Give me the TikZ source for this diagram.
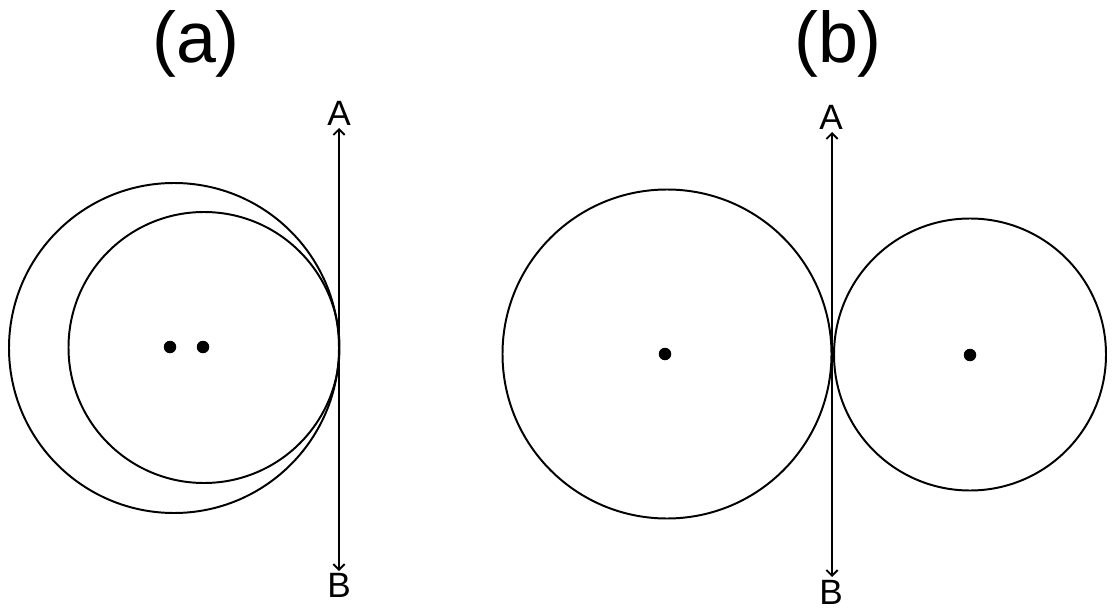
\documentclass[tikz,border=0pt]{standalone}
\usepackage{fontspec}
\setmainfont{Liberation Sans}
\usetikzlibrary{arrows.meta}
\begin{document}
\begin{tikzpicture}[x=0.025cm,y=-0.025cm,
  circ/.style={draw=black,line width=1.4pt},
  dotc/.style={fill=black,circle,inner sep=0pt,minimum size=12.5*0.025cm},
  axis/.style={line width=1.3pt,{Straight Barb[length=4pt,width=8pt]}-{Straight Barb[length=4pt,width=8pt]}},
  lbl/.style={font=\fontsize{25}{28}\selectfont,inner sep=0pt},
  ttl/.style={font=\fontsize{51}{56}\selectfont,inner sep=0pt}]
\useasboundingbox (0,0) rectangle (1114,611);
% (a)
\node[ttl] (ta) at (196,44) {(a)};
\draw[circ] (174,348) circle (165);
\draw[circ] (204,347.5) circle (135.5);
\node[dotc] (d1) at (170,347) {};
\node[dotc] (d2) at (203,347) {};
\node[lbl] (aA) at (339,113) {A};
\node[lbl] (aB) at (339,585) {B};
\coordinate (a1) at (339,128);
\coordinate (a2) at (339,571);
\draw[axis] (a2) -- (a1);
% (b)
\node[ttl] (tb) at (838,44) {(b)};
\draw[circ] (667,354) circle (164.5);
\draw[circ] (970,354.5) circle (136);
\node[dotc] (d3) at (665,354) {};
\node[dotc] (d4) at (970,355) {};
\node[lbl] (bA) at (831,117) {A};
\node[lbl] (bB) at (831,592) {B};
\coordinate (b1) at (832,132);
\coordinate (b2) at (832,577);
\draw[axis] (b2) -- (b1);
\end{tikzpicture}
\end{document}
